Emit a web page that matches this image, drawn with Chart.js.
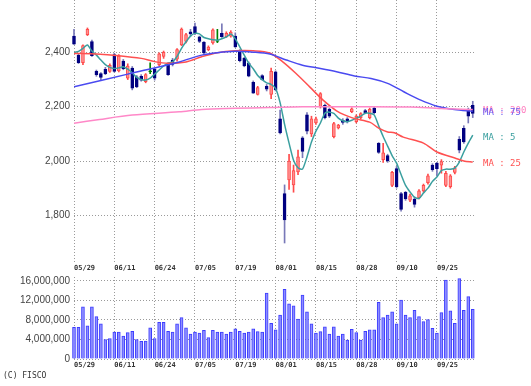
<!DOCTYPE html>
<html>
<head>
<meta charset="utf-8">
<script src="https://cdn.jsdelivr.net/npm/chart.js@4.4.0/dist/chart.umd.min.js"></script>
<style>
  html, body { margin: 0; padding: 0; background: #fff; }
  #wrap { position: relative; width: 531px; height: 386px; overflow: hidden; }
  canvas { position: absolute; left: 0; }
  #price { top: 0; }
  #volume { top: 270px; }
  .lbl { position: absolute; font: 9px "DejaVu Sans Mono", monospace; white-space: pre; line-height: 10px; }
</style>
</head>
<body>
<div id="wrap">
  <canvas id="price" width="531" height="276"></canvas>
  <canvas id="volume" width="531" height="116"></canvas>
  <div class="lbl" style="left:483px;top:105px;color:#ff80c0">MA : 200</div>
  <div class="lbl" style="left:483px;top:107px;color:#6a5cf0">MA : 75</div>
  <div class="lbl" style="left:483px;top:132px;color:#3a9f9f">MA : 5</div>
  <div class="lbl" style="left:483px;top:158px;color:#ff5050">MA : 25</div>
  <div class="lbl" style="left:3px;top:371px;font-size:8px;color:#333">(C) FISCO</div>
</div>
<script>
document.addEventListener("DOMContentLoaded", () => {
    // trading days shown on the chart
    const dates = [
        "05/29", "05/30", "05/31", "06/03", "06/04", "06/05", "06/06", "06/07", "06/10", "06/11",
        "06/12", "06/13", "06/14", "06/17", "06/18", "06/19", "06/20", "06/21", "06/24", "06/25",
        "06/26", "06/27", "06/28", "07/01", "07/02", "07/03", "07/04", "07/05", "07/08", "07/09",
        "07/10", "07/11", "07/12", "07/16", "07/17", "07/18", "07/19", "07/22", "07/23", "07/24",
        "07/25", "07/26", "07/29", "07/30", "07/31", "08/01", "08/02", "08/05", "08/06", "08/07",
        "08/08", "08/09", "08/13", "08/14", "08/15", "08/16", "08/19", "08/20", "08/21", "08/22",
        "08/23", "08/26", "08/27", "08/28", "08/29", "08/30", "09/02", "09/03", "09/04", "09/05",
        "09/06", "09/09", "09/10", "09/11", "09/12", "09/13", "09/17", "09/18", "09/19", "09/20",
        "09/24", "09/25", "09/26", "09/27", "09/30", "10/01", "10/02", "10/03", "10/04", "10/07"
    ];
    const dateTicks = [0, 9, 18, 27, 36, 45, 54, 63, 72, 81];

    const opens = [
        2460, 2390, 2362, 2465, 2440, 2330, 2322, 2338, 2330, 2392,
        2332, 2368, 2305, 2342, 2310, 2312, 2292, 2328, 2338, 2355,
        2385, 2358, 2372, 2375, 2428, 2440, 2476, 2495, 2457, 2438,
        2410, 2435, 2440, 2470, 2458, 2460, 2460, 2400, 2378, 2360,
        2290, 2245, 2315, 2275, 2245, 2328, 2155, 1880, 1930, 1912,
        1960, 2085, 2170, 2100, 2140, 2200, 2205, 2190, 2090, 2122,
        2150, 2155, 2182, 2145, 2160, 2186, 2160, 2195, 2065, 2005,
        2020, 1910, 1972, 1880, 1885, 1856, 1860, 1865, 1890, 1920,
        1985, 1992, 1985, 1910, 1905, 1958, 2080, 2120, 2190, 2205
    ];
    const highs = [
        2485, 2396, 2428, 2490, 2445, 2335, 2326, 2345, 2358, 2397,
        2392, 2374, 2358, 2348, 2315, 2318, 2322, 2362, 2342, 2398,
        2405, 2362, 2378, 2414, 2490, 2470, 2485, 2508, 2460, 2440,
        2424, 2487, 2485, 2505, 2476, 2480, 2472, 2410, 2382, 2365,
        2295, 2275, 2318, 2282, 2342, 2332, 2188, 1912, 2025, 1985,
        2040, 2090, 2178, 2165, 2162, 2252, 2210, 2195, 2142, 2135,
        2156, 2160, 2196, 2170, 2178, 2190, 2195, 2198, 2068, 2065,
        2025, 1962, 1980, 1885, 1888, 1878, 1868, 1895, 1915, 1952,
        1990, 1995, 2005, 1962, 1950, 1980, 2090, 2130, 2195, 2220
    ];
    const lows = [
        2429, 2359, 2355, 2462, 2385, 2312, 2300, 2318, 2326, 2327,
        2328, 2336, 2300, 2262, 2270, 2294, 2288, 2322, 2298, 2350,
        2378, 2315, 2350, 2368, 2425, 2435, 2460, 2465, 2436, 2395,
        2406, 2430, 2436, 2455, 2455, 2456, 2418, 2365, 2347, 2310,
        2249, 2243, 2298, 2258, 2230, 2258, 2100, 1698, 1895, 1885,
        1950, 2012, 2100, 2090, 2135, 2195, 2155, 2160, 2085, 2118,
        2135, 2140, 2178, 2140, 2155, 2174, 2155, 2174, 2028, 1995,
        1995, 1905, 1900, 1815, 1855, 1850, 1830, 1860, 1885, 1915,
        1962, 1945, 1955, 1905, 1900, 1952, 2030, 2065, 2140, 2160
    ];
    const closes = [
        2430, 2362, 2425, 2485, 2388, 2318, 2308, 2322, 2352, 2330,
        2386, 2340, 2350, 2268, 2273, 2298, 2318, 2328, 2305, 2395,
        2400, 2318, 2356, 2410, 2486, 2466, 2468, 2470, 2440, 2398,
        2420, 2483, 2440, 2458, 2470, 2475, 2420, 2370, 2350, 2312,
        2250, 2270, 2300, 2265, 2330, 2262, 2103, 1783, 2000, 1965,
        2015, 2035, 2110, 2155, 2155, 2248, 2160, 2165, 2138, 2132,
        2142, 2145, 2192, 2165, 2175, 2178, 2190, 2178, 2032, 2030,
        2000, 1958, 1905, 1822, 1860, 1872, 1840, 1890, 1910, 1945,
        1968, 1972, 1998, 1955, 1945, 1975, 2040, 2070, 2165, 2175
    ];
    const volumes = [
        6500000, 6500000, 10700000, 6800000, 10700000, 8700000, 7200000, 4000000, 4200000, 5500000,
        5500000, 4700000, 5400000, 5700000, 4000000, 3600000, 3700000, 6400000, 4200000, 7500000,
        7500000, 5700000, 5500000, 7200000, 8500000, 6400000, 5100000, 5500000, 5300000, 5900000,
        4400000, 5900000, 5500000, 5500000, 5100000, 5500000, 6200000, 5700000, 5300000, 5500000,
        6200000, 5600000, 5500000, 13500000, 7300000, 6000000, 9000000, 14300000, 11300000, 10900000,
        8200000, 13100000, 9700000, 7200000, 5300000, 5600000, 6600000, 5100000, 6600000, 4700000,
        5100000, 3900000, 6100000, 5400000, 3900000, 5700000, 6000000, 6000000, 11600000, 8500000,
        9000000, 9700000, 7200000, 12100000, 9000000, 8500000, 10000000, 8700000, 7700000, 8100000,
        6300000, 5300000, 9500000, 16200000, 9900000, 7300000, 16500000, 10000000, 12800000, 10200000
    ];

    // moving averages
    const ma5 = [
        2400, 2404, 2415, 2427, 2405, 2390, 2372, 2355, 2345, 2341,
        2343, 2347, 2338, 2325, 2308, 2300, 2298, 2305, 2320, 2335,
        2350, 2360, 2365, 2385, 2415, 2439, 2460, 2470, 2468, 2455,
        2450, 2447, 2445, 2450, 2457, 2468, 2450, 2420, 2390, 2360,
        2340, 2315, 2300, 2288, 2282, 2267, 2215, 2135, 2066, 2003,
        1975, 1970, 2015, 2070, 2110, 2140, 2176, 2180, 2175, 2158,
        2148, 2145, 2150, 2158, 2165, 2176, 2176, 2170, 2130, 2090,
        2055, 2020, 1992, 1950, 1910, 1886, 1866, 1862, 1882, 1900,
        1925, 1941, 1965, 1970, 1970, 1974, 1996, 2033, 2066, 2095
    ];
    const ma25Idx = [0, 5, 10, 15, 18, 21, 25, 28.5, 32, 36, 40, 43.7, 46.6, 49.5, 52.6, 55.6, 58.6, 62.3, 66, 68, 70, 71.5, 73.5, 78, 81, 85, 87, 89];
    const ma25 = [2396, 2394, 2388, 2378, 2366, 2360, 2365, 2384, 2399, 2406, 2406, 2398, 2365, 2323, 2273, 2224, 2185, 2158, 2143, 2121, 2107, 2104, 2088, 2066, 2033, 2011, 2000, 1996];
    const ma75Idx = [0, 12, 23.5, 28.5, 32, 36, 40, 43.7, 47.4, 51, 55, 58.6, 62.6, 66.3, 70, 73.6, 77.4, 81, 84.9, 89];
    const ma75 = [2273, 2320, 2365, 2390, 2399, 2404, 2401, 2394, 2372, 2353, 2341, 2329, 2313, 2304, 2286, 2255, 2224, 2202, 2190, 2183];
    const ma200Idx = [0, 5.7, 13, 23.5, 28.5, 36, 43.6, 51, 62, 75, 82, 89];
    const ma200 = [2139, 2153, 2169, 2181, 2190, 2194, 2197, 2200, 2200, 2199, 2193, 2190];

    const priceTicks = [1800, 2000, 2200, 2400];
    const volumeTicks = [0, 4000000, 8000000, 12000000, 16000000];

    const gridColor = "#9a9a9a";
    const upFill = "#ff9090", upLine = "#ff4a4a";
    const downFill = "#000080", downWick = "#7878b8";
    const evenFill = "#008000";

    const kind = opens.map((o, i) => closes[i] > o ? "up" : closes[i] < o ? "down" : "even");
    const bodyFill = kind.map(k => k === "up" ? upFill : k === "down" ? downFill : evenFill);
    const bodyLine = kind.map(k => k === "up" ? upLine : k === "down" ? downFill : evenFill);
    const wickColor = kind.map(k => k === "up" ? upLine : k === "down" ? downWick : evenFill);

    const toPoints = (xs, ys) => xs.map((x, k) => ({ x: x, y: ys[k] }));

    function dateAxis() {
        return {
            type: "linear",
            min: 0,
            max: 89.5,
            offset: false,
            grid: { color: gridColor, lineWidth: 1, drawTicks: false, offset: false },
            border: { display: false, dash: [1, 2] },
            ticks: {
                autoSkip: false,
                maxRotation: 0,
                align: "start",
                padding: 2,
                color: "#333",
                font: { family: "DejaVu Sans Mono", size: 7, weight: "bold" },
                callback: v => dates[v]
            },
            afterBuildTicks: s => { s.ticks = dateTicks.map(v => ({ value: v })); },
            afterFit: s => { s.paddingLeft = 0; s.paddingRight = 0; }
        };
    }

    function valueAxis(ticks, min, max) {
        return {
            min: min,
            max: max,
            grid: { color: gridColor, lineWidth: 1, drawTicks: false },
            border: { display: false, dash: [1, 2] },
            ticks: {
                padding: 4,
                color: "#444",
                font: { family: "Liberation Sans", size: 10 },
                callback: v => v.toLocaleString("en-US")
            },
            afterBuildTicks: s => { s.ticks = ticks.map(v => ({ value: v })); },
            afterFit: s => { s.width = 74; s.paddingTop = 0; s.paddingBottom = 0; }
        };
    }

    // price panel: candles + moving averages
    const priceX = dateAxis();
    priceX.afterFit = s => { s.height = 14; s.paddingLeft = 0; s.paddingRight = 0; };
    new Chart(document.getElementById("price").getContext("2d"), {
        type: "bar",
        data: {
            datasets: [
                { type: "line", data: toPoints(ma200Idx, ma200), borderColor: "#ff88c8", borderWidth: 1.5, pointRadius: 0, tension: 0.3, order: 0 },
                { type: "line", data: toPoints(ma75Idx, ma75), borderColor: "#4a4af0", borderWidth: 1.5, pointRadius: 0, tension: 0.3, order: 0 },
                { type: "line", data: toPoints(ma25Idx, ma25), borderColor: "#ff5050", borderWidth: 1.5, pointRadius: 0, tension: 0.3, order: 0 },
                { type: "line", data: toPoints(dates.map((d, i) => i), ma5), borderColor: "#3a9f9f", borderWidth: 1.5, pointRadius: 0, tension: 0.2, order: 0 },
                {
                    data: dates.map((d, i) => ({ x: i, y: [opens[i], closes[i]] })),
                    backgroundColor: bodyFill, borderColor: bodyLine, borderWidth: 1, borderSkipped: false,
                    barThickness: 3, minBarLength: 1, grouped: false, clip: false, order: 1
                },
                {
                    data: dates.map((d, i) => ({ x: i, y: [lows[i], highs[i]] })),
                    backgroundColor: wickColor, borderWidth: 0,
                    barThickness: 1, grouped: false, clip: false, order: 2
                }
            ]
        },
        options: {
            responsive: false,
            animation: false,
            layout: { autoPadding: false, padding: { left: 0, right: 56, top: 0, bottom: 0 } },
            plugins: { legend: { display: false }, tooltip: { enabled: false } },
            scales: { x: priceX, y: valueAxis(priceTicks, 1628, 2593) }
        }
    });

    // volume panel
    const volX = dateAxis();
    volX.afterFit = s => { s.height = 27; s.paddingLeft = 0; s.paddingRight = 0; };
    new Chart(document.getElementById("volume").getContext("2d"), {
        type: "bar",
        data: {
            datasets: [{
                data: dates.map((d, i) => ({ x: i, y: volumes[i] })),
                backgroundColor: "#8e8eff", borderColor: "#3c3cff", borderWidth: 1,
                barThickness: 3, clip: false
            }]
        },
        options: {
            responsive: false,
            animation: false,
            layout: { autoPadding: false, padding: { left: 0, right: 56, top: 7, bottom: 0 } },
            plugins: { legend: { display: false }, tooltip: { enabled: false } },
            scales: { x: volX, y: valueAxis(volumeTicks, 0, 16820000) }
        }
    });
});
</script>
</body>
</html>
